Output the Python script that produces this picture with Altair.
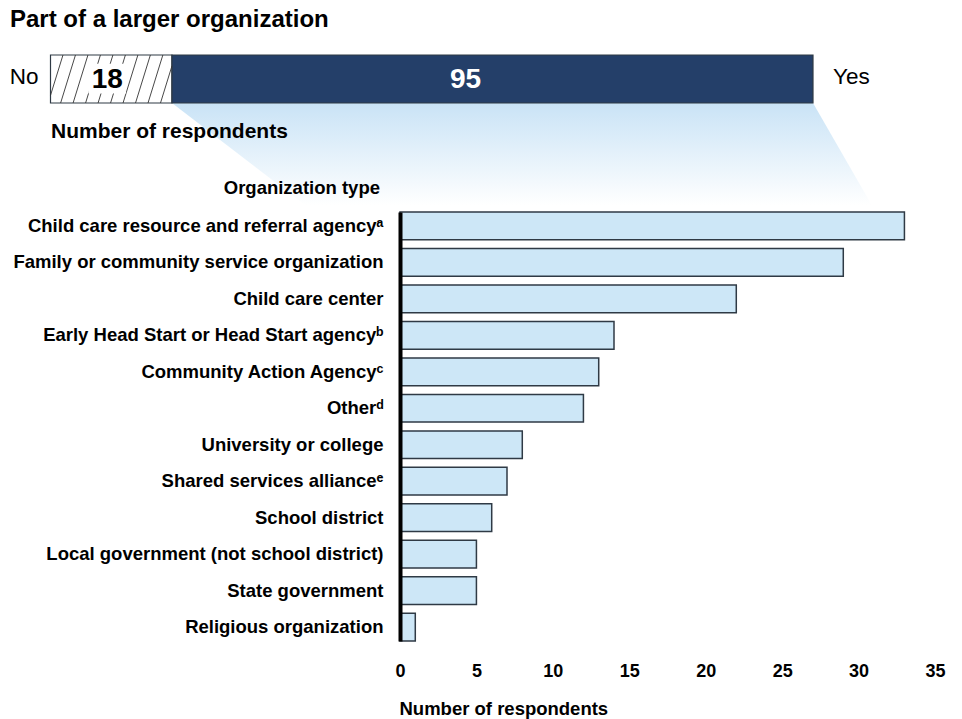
import altair as alt
import pandas as pd

# ---------------- data ----------------
org_types = [
    "Child care resource and referral agency\u1d43",
    "Family or community service organization",
    "Child care center",
    "Early Head Start or Head Start agency\u1d47",
    "Community Action Agency\u1d9c",
    "Other\u1d48",
    "University or college",
    "Shared services alliance\u1d49",
    "School district",
    "Local government (not school district)",
    "State government",
    "Religious organization",
]
org_counts = [33, 29, 22, 14, 13, 12, 8, 7, 6, 5, 5, 1]

part_answers = ["No", "Yes"]
part_counts = [18, 95]

x_ticks = [0, 5, 10, 15, 20, 25, 30, 35]

# ---------------- styling ----------------
FONT = "Liberation Sans"
NAVY = "#243f69"
LIGHT = "#cde7f7"
OUTLINE = "#2f3a45"

W, H = 535, 429
PAD = {"left": 392, "top": 204, "right": 19, "bottom": 78}

total = sum(part_counts)
top_x = alt.Scale(domain=[0, total], range=[-349.5, 413], nice=False, zero=False)
top_y = alt.Scale(domain=[0, 1], range=[-109, -157], nice=False, zero=False)
conn_y = alt.Scale(domain=[0, 1], range=[-109, -7], nice=False, zero=False)

# ---------------- bottom bar chart ----------------
bars_df = pd.DataFrame({"type": org_types, "count": org_counts})
bars = alt.Chart(bars_df).mark_bar(fill=LIGHT, stroke=OUTLINE, strokeWidth=1.5).encode(
    y=alt.Y(
        "type:N",
        sort=org_types,
        scale=alt.Scale(paddingInner=0.24, paddingOuter=0),
        axis=alt.Axis(
            title=None, domain=True, domainColor="black", domainWidth=4,
            ticks=False, tickSize=0, labelPadding=17, labelFont=FONT,
            labelFontSize=18.5, labelFontWeight="bold", labelColor="black",
            labelLimit=600, zindex=1,
        ),
    ),
    x=alt.X(
        "count:Q",
        scale=alt.Scale(domain=[0, 35], nice=False),
        axis=alt.Axis(
            values=x_ticks, domain=False, ticks=False, tickSize=0, grid=False,
            labelPadding=21, labelFont=FONT, labelFontSize=18,
            labelFontWeight="bold", labelColor="black", labelFlush=False,
            title="Number of respondents", titleX=-1, titleY=67,
            titleAlign="left", titleBaseline="middle", titleFont=FONT,
            titleFontSize=18.5, titleFontWeight="bold", titleColor="black",
        ),
    ),
)

# ---------------- top stacked bar ----------------
ends = []
acc = 0
for c in part_counts:
    acc += c
    ends.append(acc)
part_df = pd.DataFrame({
    "answer": part_answers,
    "count": part_counts,
    "end": ends,
})
part_df["start"] = part_df["end"] - part_df["count"]
part_df["mid"] = part_df["start"] + part_df["count"] / 2

top_rect = alt.Chart(part_df).mark_rect(stroke=OUTLINE, strokeWidth=1.2).encode(
    x=alt.X("start:Q", scale=top_x, axis=None),
    x2="end:Q",
    y=alt.Y(datum=0, type="quantitative", scale=top_y, axis=None),
    y2=alt.Y2(datum=1),
    color=alt.Color("answer:N", scale=alt.Scale(domain=part_answers, range=["white", NAVY]), legend=None),
)

# hatch pattern for the "No" segment (decoration)
no_end = part_counts[0]
slant, step = 2.2, 1.85
hx0, hx1, hy0, hy1 = [], [], [], []
b = -slant
while b < no_end:
    x0, y0, x1, y1 = b, 0.0, b + slant, 1.0
    if x0 < 0:
        y0 = (0 - b) / slant
        x0 = 0
    if x1 > no_end:
        y1 = (no_end - b) / slant
        x1 = no_end
    if x1 > x0:
        hx0.append(x0); hx1.append(x1); hy0.append(y0); hy1.append(y1)
    b += step
hatch_df = pd.DataFrame({"x0": hx0, "x1": hx1, "y0": hy0, "y1": hy1})
hatch = alt.Chart(hatch_df).mark_rule(color="#333333", strokeWidth=0.9).encode(
    x=alt.X("x0:Q", scale=top_x, axis=None),
    x2="x1:Q",
    y=alt.Y("y0:Q", scale=top_y, axis=None),
    y2="y1:Q",
)

# white patch behind "18"
patch = alt.Chart(pd.DataFrame({"a": [0]})).mark_rect(fill="white").encode(
    x=alt.X(datum=5.6, type="quantitative", scale=top_x, axis=None),
    x2=alt.X2(datum=11.2),
    y=alt.Y(datum=0.2, type="quantitative", scale=top_y, axis=None),
    y2=alt.Y2(datum=0.82),
)

no_df = part_df[part_df["answer"] == "No"]
yes_df = part_df[part_df["answer"] == "Yes"]

no_val = alt.Chart(no_df).mark_text(
    font=FONT, fontSize=28, fontWeight="bold", color="black", baseline="middle", dx=-4, dy=1
).encode(
    x=alt.X("mid:Q", scale=top_x, axis=None),
    y=alt.Y(datum=0.5, type="quantitative", scale=top_y, axis=None),
    text="count:Q",
)
yes_val = alt.Chart(yes_df).mark_text(
    font=FONT, fontSize=28, fontWeight="bold", color="white", baseline="middle", dx=-27, dy=1
).encode(
    x=alt.X("mid:Q", scale=top_x, axis=None),
    y=alt.Y(datum=0.5, type="quantitative", scale=top_y, axis=None),
    text="count:Q",
)
no_lab = alt.Chart(no_df).mark_text(
    font=FONT, fontSize=22.5, color="black", align="right", baseline="middle", dx=-12
).encode(
    x=alt.X("start:Q", scale=top_x, axis=None),
    y=alt.Y(datum=0.55, type="quantitative", scale=top_y, axis=None),
    text="answer:N",
)
yes_lab = alt.Chart(yes_df).mark_text(
    font=FONT, fontSize=22.5, color="black", align="left", baseline="middle", dx=20
).encode(
    x=alt.X("end:Q", scale=top_x, axis=None),
    y=alt.Y(datum=0.55, type="quantitative", scale=top_y, axis=None),
    text="answer:N",
)

# ---------------- connector (gradient trapezoid) ----------------
conn_df = pd.DataFrame({
    "pos": [0, 1],
    "left": [part_counts[0], 37.7],
    "right": [total, 121.7],
})
connector = alt.Chart(conn_df).mark_area(
    orient="horizontal",
    color=alt.Gradient(
        gradient="linear",
        stops=[alt.GradientStop(color="#c9e3f6", offset=0),
               alt.GradientStop(color="#ffffff", offset=1)],
        x1=0, x2=0, y1=0, y2=1,
    ),
).encode(
    y=alt.Y("pos:Q", scale=conn_y, axis=None),
    x=alt.X("left:Q", scale=top_x, axis=None),
    x2="right:Q",
)


# ---------------- free text ----------------
def label(text, x, y, size, align="left", weight="bold"):
    return alt.Chart(pd.DataFrame({"t": [text]})).mark_text(
        x=x, y=y, align=align, baseline="middle", font=FONT,
        fontSize=size, fontWeight=weight, color="black",
    ).encode(text="t:N")


title = label("Part of a larger organization", -390, -192, 24)
top_axis_title = label("Number of respondents", -349, -80, 21)
org_title = label("Organization type", -20, -24, 18.5, align="right")

chart = alt.layer(
    connector, bars, top_rect, hatch, patch, no_val, yes_val, no_lab, yes_lab,
    title, top_axis_title, org_title,
).resolve_scale(
    x="independent", y="independent", color="independent"
).properties(
    width=W, height=H,
    autosize=alt.AutoSizeParams(type="none"),
    padding=PAD,
).configure_view(stroke=None)

chart.save("out.html", embed_options={"renderer": "svg", "actions": False})
